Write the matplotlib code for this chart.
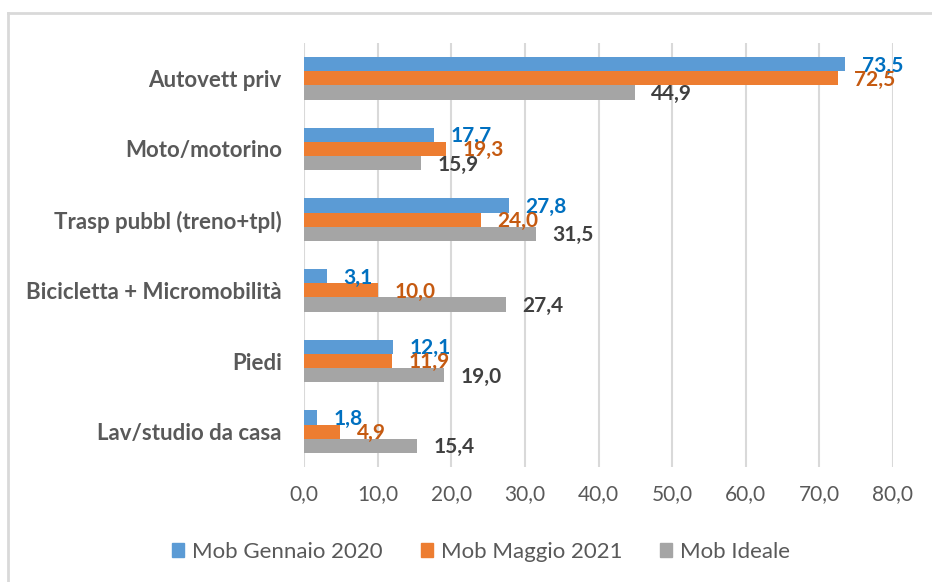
import numpy as np
import matplotlib.pyplot as plt
from matplotlib.lines import Line2D
from matplotlib.patches import Patch

# dati
categorie = ["Autovett priv", "Moto/motorino", "Trasp pubbl (treno+tpl)",
             "Bicicletta + Micromobilità", "Piedi", "Lav/studio da casa"]
gennaio_2020 = [73.5, 17.7, 27.8, 3.1, 12.1, 1.8]
maggio_2021 = [72.5, 19.3, 24.0, 10.0, 11.9, 4.9]
ideale = [44.9, 15.9, 31.5, 27.4, 19.0, 15.4]
serie_nomi = ["Mob Gennaio 2020", "Mob Maggio 2021", "Mob Ideale"]
x_ticks = [0, 10, 20, 30, 40, 50, 60, 70, 80]

colori = ["#5B9BD5", "#ED7D31", "#A5A5A5"]
colori_etich = ["#0070C0", "#C55A11", "#404040"]

plt.rcParams['font.family'] = ['Lato', 'DejaVu Sans']

fig = plt.figure(figsize=(9.32, 5.82), dpi=100)
ax = fig.add_axes([304 / 932, 1 - 467 / 582, 589 / 932, 424 / 582])

y = np.arange(len(categorie))
h = 0.2
serie = [gennaio_2020, maggio_2021, ideale]
for i, valori in enumerate(serie):
    pos = y + (i - 1) * h
    ax.barh(pos, valori, height=h, color=colori[i], zorder=3)
    for p, v in zip(pos, valori):
        ax.annotate(f"{v:.1f}".replace('.', ','), (v, p),
                    xytext=(12, -1), textcoords="offset points",
                    ha="left", va="center", fontsize=15, fontweight="bold",
                    color=colori_etich[i], zorder=4)

ax.set_ylim(len(categorie) - 0.5, -0.5)
ax.set_xlim(0, 80)
ax.set_xticks(x_ticks)
ax.set_xticklabels([f"{t:.1f}".replace('.', ',') for t in x_ticks],
                   fontsize=15, color="#595959")
ax.set_yticks(y)
ax.set_yticklabels(categorie, fontsize=16, fontweight="bold", color="#595959")
ax.tick_params(axis="x", length=0, pad=12)
ax.tick_params(axis="y", length=0, pad=16)
ax.grid(axis="x", color="#D9D9D9", linewidth=1.5, zorder=0)
for s in ax.spines.values():
    s.set_visible(False)

# legenda
handles = [Patch(color=c, label=n) for c, n in zip(colori, serie_nomi)]
leg = fig.legend(handles=handles, loc="center", bbox_to_anchor=(481 / 932, 1 - 552 / 582),
                 ncol=3, frameon=False, fontsize=16, handlelength=0.55,
                 handleheight=0.55, handletextpad=0.35, columnspacing=1.7)
for t in leg.get_texts():
    t.set_color("#595959")

# cornice del grafico (solo bordo sinistro e superiore visibili)
fig.add_artist(Line2D([8 / 932, 8 / 932], [0, 1 - 13 / 582],
                      color="#D9D9D9", linewidth=2, transform=fig.transFigure))
fig.add_artist(Line2D([8 / 932, 1], [1 - 13 / 582, 1 - 13 / 582],
                      color="#D9D9D9", linewidth=2, transform=fig.transFigure))

fig.savefig("out.png", dpi=100)
